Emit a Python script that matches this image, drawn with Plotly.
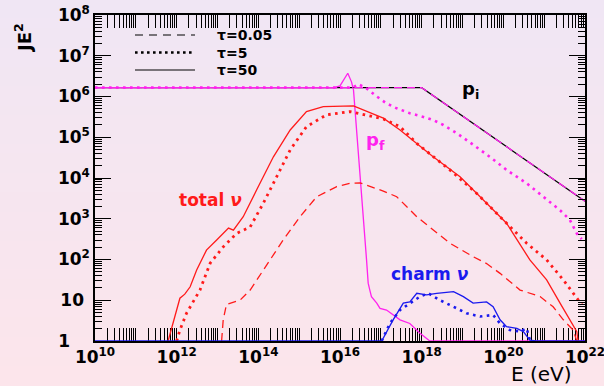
import plotly.graph_objects as go

# ---------------- data ----------------
pi_E = [1e10, 1e18, 1e22]
pi_J = [1.65e6, 1.65e6, 2.7e3]

pf005_E = [1e10, 1e18, 1e22]
pf005_J = [1.65e6, 1.65e6, 2.7e3]

pf5_E = [1e10, 2.0e16, 2.82e16, 4.47e16, 7.94e16, 1.38e17, 2.45e17, 5.13e17, 1.1e18, 1.95e18,
         3.39e18, 7.24e18, 1.86e19, 4.68e19, 1.2e20, 3.72e20, 9.55e20, 2.45e21, 4.27e21, 6.31e21, 8.32e21]
pf5_J = [1.65e6, 1.65e6, 2.0e6, 1.58e6, 1.0e6, 6.76e5, 5.13e5, 3.89e5, 3.16e5, 2.63e5,
         2.0e5, 1.26e5, 6.46e4, 3.31e4, 1.58e4, 7.41e3, 3.47e3, 1.62e3, 933, 437, 316]

pf50_E = [1e10, 7.08e15, 1.0e16, 1.55e16, 1.91e16, 2.14e16, 4.47e16, 4.9e16, 5.37e16, 5.89e16,
          7.94e16, 9.55e16, 1.38e17, 2.95e17, 5.13e17, 9.12e17, 1.58e18, 1e22]
pf50_J = [1.65e6, 1.65e6, 1.82e6, 3.72e6, 2.29e6, 1.45e6, 97.7, 26.3, 17.8, 12.3,
          8.51, 6.31, 5.75, 3.31, 2.69, 1.55, 1.0, 1.0]

nu50_E = [6.17e11, 7.94e11, 1.0e12, 1.2e12, 1.58e12, 2.14e12, 3.09e12, 5.37e12, 9.55e12, 1.86e13,
          2.45e13, 4.27e13, 9.12e13, 2.34e14, 6.03e14, 1.51e15, 3.89e15, 6.76e15, 2.14e16, 1.15e17,
          2.95e17, 1.91e18, 8.71e18, 3.89e19, 1.2e20, 4.47e20, 1.15e21, 2.45e21, 4.27e21, 6.31e21, 6.76e21]
nu50_J = [1, 2.51, 5.75, 11.2, 14.1, 21.4, 55, 170, 302, 589,
          525, 1.12e3, 5.13e3, 3.31e4, 1.51e5, 4.27e5, 5.62e5, 5.75e5, 5.89e5, 2.95e5,
          1.51e5, 3.31e4, 1.07e4, 2.4e3, 776, 97.7, 31.6, 8.51, 3.31, 1.7, 1]

nu5_E = [1e12, 1.2e12, 1.74e12, 2.57e12, 3.72e12, 6.61e12, 1.38e13, 2.95e13, 6.31e13, 1.32e14,
         2.82e14, 6.03e14, 1.51e15, 4.68e15, 1.78e16, 1.15e17, 2.95e17, 7.59e17, 4.9e18, 2.24e19,
         8.32e19, 3.72e20, 1.15e21, 2.95e21, 6.92e21, 8.32e21]
nu5_J = [1, 1.86, 4.79, 9.12, 17.8, 81.3, 204, 437, 631, 2.4e3,
         1.07e4, 4.9e4, 1.82e5, 3.55e5, 4.27e5, 2.82e5, 1.82e5, 7.08e4, 1.58e4, 4.17e3,
         1.12e3, 251, 97.7, 31.6, 10, 7.94]

nu005_E = [1.26e13, 1.38e13, 1.66e13, 2.51e13, 3.55e13, 6.31e13, 1.32e14, 4.07e14, 1.05e15, 2.69e15,
           8.32e15, 1.78e16, 3.09e16, 1.15e17, 2.45e17, 7.59e17, 4.9e18, 1.82e19, 3.89e19, 8.32e19,
           2.57e20, 7.94e20, 1.66e21, 2.95e21, 5.13e21, 6.31e21]
nu005_J = [1, 3.31, 7.94, 8.91, 10, 17.8, 55, 302, 1.12e3, 3.47e3,
           6.17e3, 7.41e3, 7.59e3, 4.79e3, 3.47e3, 1.12e3, 251, 117, 79.4, 45.7,
           17.8, 12.3, 6.92, 3.31, 1.86, 1]

charm50_E = [1e10, 1.05e17, 2.0e17, 3.55e17, 5.13e17, 7.59e17, 1.32e18, 2.34e18, 6.03e18, 1.05e19,
             1.82e19, 3.89e19, 5.62e19, 8.32e19, 1.2e20, 2.14e20, 3.09e20, 4.47e20, 6.31e20, 1e22]
charm50_J = [1, 1, 3.31, 8.51, 9.12, 14.8, 13.5, 14.8, 16.2, 12.3,
             8.51, 9.12, 6.92, 3.31, 2.24, 2.04, 1.7, 1.05, 1, 1]

charm5_E = [1.05e17, 1.66e17, 2.95e17, 5.13e17, 9.12e17, 1.45e18, 2.82e18, 6.03e18, 1.26e19, 2.69e19,
            5.62e19, 8.32e19, 1.45e20, 2.57e20, 3.72e20, 4.47e20]
charm5_J = [1, 2.69, 5.75, 8.51, 12.3, 14.8, 10, 6.92, 4.79, 3.98,
            4.37, 2.69, 1.86, 1.7, 2.04, 1.05]

x_tickvals = [1e10, 1e11, 1e12, 1e13, 1e14, 1e15, 1e16, 1e17, 1e18, 1e19, 1e20, 1e21, 1e22]
x_ticktext = ["10<sup>10</sup>", "", "10<sup>12</sup>", "", "10<sup>14</sup>", "", "10<sup>16</sup>", "",
              "10<sup>18</sup>", "", "10<sup>20</sup>", "", "10<sup>22</sup>"]
y_tickvals = [1, 10, 1e2, 1e3, 1e4, 1e5, 1e6, 1e7, 1e8]
y_ticktext = ["", "", "10<sup>2</sup>", "10<sup>3</sup>",
              "10<sup>4</sup>", "10<sup>5</sup>", "10<sup>6</sup>", "10<sup>7</sup>", "10<sup>8</sup>"]
y_ten_val, y_ten_text = [10], ["10"]
y_one_val, y_one_text = [1], ["1"]

legend_labels = ["τ=0.05", "τ=5", "τ=50"]

RED = "#ff1a1a"
MAG = "#ff22ee"
BLUE = "#1a1aee"
FONT = "DejaVu Sans"
DOT = "2.6px,4.4px"
DASH = "8px,5px"

fig = go.Figure()

def add(x, y, color, dash="solid", width=1.3):
    fig.add_trace(go.Scatter(x=x, y=y, mode="lines", showlegend=False, hoverinfo="skip",
                             line=dict(color=color, dash=dash, width=width)))

add(pi_E, pi_J, "black", "solid", 1.2)
add(pf005_E, pf005_J, MAG, DASH, 1.3)
add(pf5_E, pf5_J, MAG, DOT, 2.6)
add(pf50_E, pf50_J, MAG, "solid", 1.3)
add(nu005_E, nu005_J, RED, DASH, 1.3)
add(nu5_E, nu5_J, RED, DOT, 2.8)
add(nu50_E, nu50_J, RED, "solid", 1.3)
add(charm5_E, charm5_J, BLUE, DOT, 2.6)
add(charm50_E, charm50_J, BLUE, "solid", 1.3)

# empty helper traces so the two label-only y axes get drawn
for ax in ("y2", "y3"):
    fig.add_trace(go.Scatter(x=[None], y=[None], yaxis=ax, mode="lines",
                             showlegend=False, hoverinfo="skip"))

# ---------------- background gradient ----------------
W, H = 604, 386
L, R, T, B = 95, 19, 15, 45
pw, ph = W - L - R, H - T - B
top_c = (240, 230, 244)
bot_c = (252, 229, 235)
n = 40
shapes = []
for i in range(n):
    f = i / (n - 1)
    c = tuple(round(top_c[k] + (bot_c[k] - top_c[k]) * f) for k in range(3))
    y1 = 1 + T / ph - (H / ph) * i / n
    y0 = 1 + T / ph - (H / ph) * (i + 1) / n
    shapes.append(dict(type="rect", xref="paper", yref="paper", layer="below",
                       x0=-L / pw, x1=1 + R / pw, y0=y0 - 0.002, y1=y1 + 0.002,
                       fillcolor="rgb(%d,%d,%d)" % c, line=dict(width=0)))

# ---------------- manual legend ----------------
leg_dash = ["8px,6px", "2.6px,3.4px", "solid"]
leg_w = [1.2, 2.6, 1.2]
leg_rows_px = [35, 52.5, 70]
annotations = []
for lab, d, w, ypx in zip(legend_labels, leg_dash, leg_w, leg_rows_px):
    yp = 1 - (ypx - T) / ph
    shapes.append(dict(type="line", xref="paper", yref="paper",
                       x0=(135 - L) / pw, x1=(195 - L) / pw, y0=yp, y1=yp,
                       line=dict(color="black", dash=d, width=w)))
    annotations.append(dict(xref="paper", yref="paper", x=(215 - L) / pw, y=yp,
                            xanchor="left", yanchor="middle", showarrow=False, text=lab,
                            font=dict(size=14, color="black", family=FONT, weight="bold")))

# ---------------- curve labels ----------------
annotations += [
    dict(x=19.2, y=6.17, xref="x", yref="y", text="<b>p<sub>i</sub></b>", showarrow=False,
         font=dict(size=18, color="black", family=FONT)),
    dict(x=16.88, y=4.92, xref="x", yref="y", text="<b>p<sub>f</sub></b>", showarrow=False,
         font=dict(size=18, color=MAG, family=FONT)),
    dict(x=12.82, y=3.45, xref="x", yref="y", text="<b>total <i>ν</i></b>", showarrow=False,
         font=dict(size=17, color=RED, family=FONT)),
    dict(x=18.2, y=1.65, xref="x", yref="y", text="<b>charm <i>ν</i></b>", showarrow=False,
         font=dict(size=17, color=BLUE, family=FONT)),
    dict(x=(541 - L) / pw, y=-(373.5 - (H - B)) / ph, xref="paper", yref="paper", text="E (eV)",
         xanchor="center", yanchor="middle",
         showarrow=False, font=dict(size=20, color="black", family=FONT)),
    dict(x=(23 - L) / pw, y=1 - (38 - T) / ph, xref="paper", yref="paper",
         xanchor="center", yanchor="middle",
         text="<b>JE<sup>2</sup></b>", textangle=-90, showarrow=False,
         font=dict(size=18, color="black", family=FONT)),
]

TICKFONT = dict(size=17, color="black", family=FONT, weight="bold")
axis_common = dict(
    type="log", showgrid=False, zeroline=False, showline=True, linecolor="black",
    linewidth=1.5, mirror="allticks", ticks="inside", tickcolor="black", tickwidth=1,
    tickmode="array", automargin=False, tickfont=TICKFONT,
    minor=dict(ticks="inside", ticklen=7, tickcolor="black", tickwidth=1, dtick="D1", showgrid=False),
)
label_axis = dict(type="log", overlaying="y", anchor="x", side="left", range=[0, 8],
                  showgrid=False, zeroline=False, showline=False, ticks="", tickmode="array",
                  automargin=False, tickfont=TICKFONT, visible=True)

fig.update_layout(
    width=W, height=H, margin=dict(l=L, r=R, t=T, b=B, autoexpand=False),
    paper_bgcolor="rgb(246,229,240)", plot_bgcolor="rgba(0,0,0,0)",
    shapes=shapes, annotations=annotations, showlegend=False,
    xaxis=dict(axis_common, range=[10, 22], tickvals=x_tickvals, ticktext=x_ticktext,
               ticklen=13, layer="below traces", ticklabeloverflow="allow"),
    yaxis=dict(axis_common, range=[0, 8], tickvals=y_tickvals, ticktext=y_ticktext,
               ticklen=16),
    yaxis2=dict(label_axis, tickvals=y_ten_val, ticktext=y_ten_text, ticklabelstandoff=10),
    yaxis3=dict(label_axis, tickvals=y_one_val, ticktext=y_one_text, ticklabelstandoff=24),
)

fig.write_html("out.html")
